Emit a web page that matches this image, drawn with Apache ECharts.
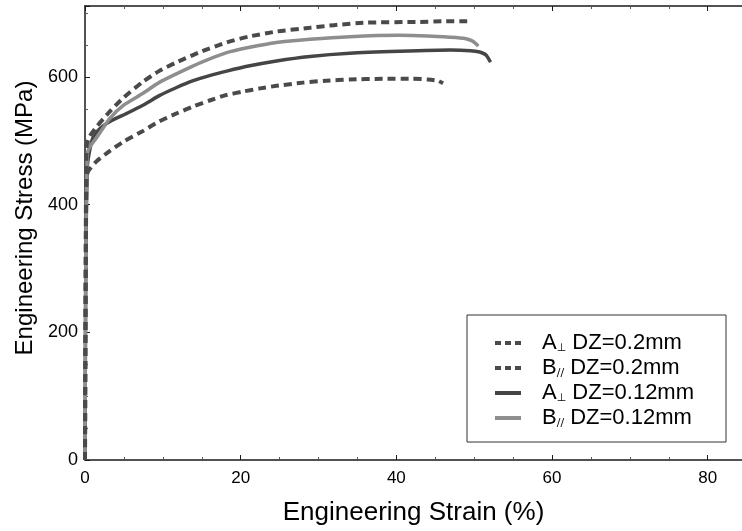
<!DOCTYPE html>
<html>
<head>
<meta charset="utf-8">
<script src="https://cdn.jsdelivr.net/npm/echarts@6/dist/echarts.min.js"></script>
<style>
  html, body { margin: 0; padding: 0; background: #fff; }
  #chart { width: 742px; height: 531px; }
</style>
</head>
<body>
<div id="chart"></div>
<script>
// series names, in the legend order
const seriesNames = ["A⊥ DZ=0.2mm", "B// DZ=0.2mm", "A⊥ DZ=0.12mm", "B// DZ=0.12mm"];

// [strain %, stress MPa]
const dashA = [[0,0],[0.1,300],[0.2,440],[0.4,452],[1.5,468],[3.2,484],[5,499],[7.4,515],[9.5,530],[11.8,543],[14,554],[16,563],[18,571],[20.3,577],[22.5,582],[24.6,586],[28,591],[31,594],[34,596],[38.3,597],[42,597],[44,596],[45.3,594],[46,590]];
const dashB = [[0,0],[0.1,350],[0.2,490],[0.5,505],[1.5,522],[3.2,546],[5,568],[7.4,592],[9.5,609],[11.8,623],[15,640],[18.2,654],[21,663],[24.6,671],[28.9,677],[32,681],[36.2,685],[42.6,686],[46,687],[49.1,687]];
const solidA = [[0,0],[0.1,300],[0.3,460],[0.6,485],[1,504],[1.6,515],[2.3,523],[3.5,532],[5.4,543],[7.5,556],[9.6,571],[11.7,583],[13.9,594],[16,602],[18.2,609],[21,617],[24.6,625],[28.9,632],[34,637],[40.4,640],[46.9,642],[49.5,641],[50.7,639],[51.3,636],[51.6,633],[52.1,623]];
const solidB = [[0,0],[0.1,320],[0.3,480],[0.6,490],[1.5,505],[3.2,535],[5,556],[7.4,574],[9.5,591],[11.8,605],[15,623],[18.2,638],[21,646],[24.6,654],[28.9,659],[34,663],[40.4,665],[44,664],[46.9,662],[48.8,660],[49.8,656],[50.3,651],[50.5,648]];

const xTicks = [0, 20, 40, 60, 80];
const yTicks = [0, 200, 400, 600];

const font = "Liberation Sans, Arial, sans-serif";
const axisColor = "#1a1a1a";

function lineSeries(name, data, color, dashed, z) {
  return {
    name: name,
    type: "line",
    data: data,
    symbol: "none",
    smooth: 0.2,
    z: z,
    lineStyle: {
      color: color,
      width: dashed ? 4 : 3.5,
      type: dashed ? [8, 5] : "solid",
    },
    itemStyle: { color: color },
  };
}

function legendText(name) {
  // split "A⊥ DZ=..." into letter, subscript and rest
  const letter = name.charAt(0);
  const sub = name.startsWith("A") ? "⊥" : "//";
  const rest = name.substring(name.indexOf(" ") + 1);
  return `{g|}{m|${letter}}{s|${sub}}{m| ${rest}}`;
}

const chart = echarts.init(document.getElementById("chart"));

const tickAxis = {
  type: "value",
  axisLine: { show: true, onZero: false, lineStyle: { color: axisColor, width: 1.5 } },
  axisTick: { show: true, inside: true, length: 5, lineStyle: { color: axisColor, width: 1 } },
  minorTick: { show: true, splitNumber: 4, length: 3, lineStyle: { color: "#555", width: 1 } },
  splitLine: { show: false },
};

chart.setOption({
  animation: false,
  backgroundColor: "#fff",
  grid: { left: 85, right: 0, top: 6, bottom: 64 },
  legend: {
    data: seriesNames.map((n, i) => ({
      name: n,
      lineStyle: { width: 4, type: i < 2 ? [6, 4] : "solid" },
    })),
    orient: "vertical",
    left: 467,
    top: 315,
    padding: [17, 32, 13, 26],
    itemWidth: 26,
    itemHeight: 20,
    itemGap: 3,
    borderColor: "#333",
    borderWidth: 1,
    itemStyle: { opacity: 0 },
    formatter: legendText,
    textStyle: {
      fontFamily: font,
      color: "#000",
      rich: {
        g: { width: 16 },
        m: { fontSize: 22, fontFamily: font, color: "#000" },
        s: { fontSize: 11, fontFamily: "DejaVu Sans, sans-serif", color: "#000", verticalAlign: "bottom", padding: [8, 0, 0, 0] },
      },
    },
  },
  xAxis: [
    Object.assign({}, tickAxis, {
      min: 0,
      max: 84.4,
      interval: 20,
      name: "Engineering Strain (%)",
      nameLocation: "middle",
      nameGap: 40,
      nameTextStyle: { fontFamily: font, fontSize: 26, color: "#000" },
      axisLabel: {
        fontFamily: font, fontSize: 17, color: "#000", margin: 10, showMaxLabel: false,
        formatter: (v) => (xTicks.includes(v) ? String(v) : ""),
      },
    }),
    Object.assign({}, tickAxis, {
      position: "top",
      min: 0,
      max: 84.4,
      interval: 20,
      axisLabel: { show: false },
    }),
  ],
  yAxis: Object.assign({}, tickAxis, {
    min: 0,
    max: 711,
    interval: 200,
    name: "Engineering Stress (MPa)",
    nameLocation: "middle",
    nameGap: 46,
    nameTextStyle: { fontFamily: font, fontSize: 24, color: "#000", padding: [0, 0, 0, 30] },
    axisLabel: {
      fontFamily: font, fontSize: 18, color: "#000", margin: 7, showMaxLabel: false,
      formatter: (v) => (yTicks.includes(v) ? String(v) : ""),
    },
  }),
  series: [
    lineSeries(seriesNames[2], solidA, "#454545", false, 2),
    lineSeries(seriesNames[3], solidB, "#8e8e8e", false, 3),
    lineSeries(seriesNames[0], dashA, "#4a4a4a", true, 4),
    lineSeries(seriesNames[1], dashB, "#4a4a4a", true, 5),
  ],
});
</script>
</body>
</html>
